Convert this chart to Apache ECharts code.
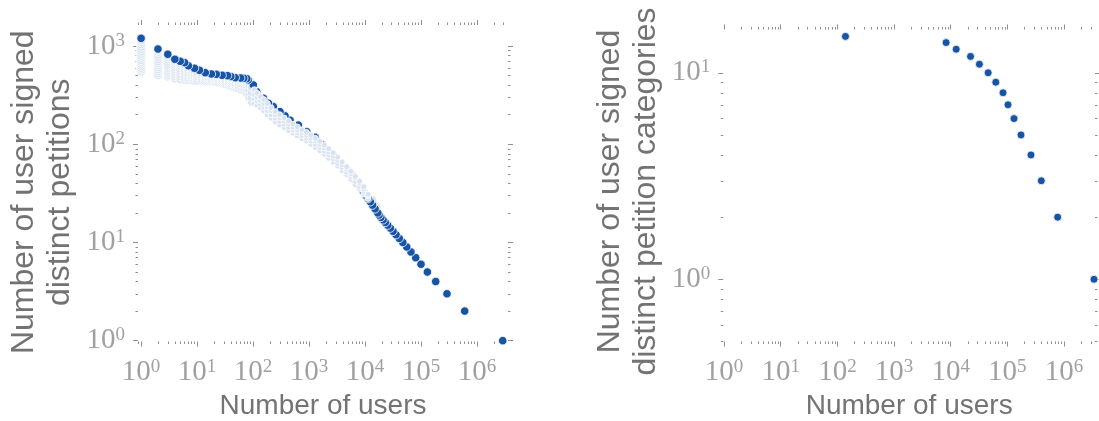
<!DOCTYPE html>
<html><head><meta charset="utf-8">
<script src="https://cdn.jsdelivr.net/npm/echarts@6/dist/echarts.min.js"></script>
<style>html,body{margin:0;padding:0;background:#fff}#c{width:1099px;height:421px}</style>
</head><body><div id="c"></div>
<script>
// ---------- data ----------
// left panel: number of users (x) who signed a given number of distinct petitions (y)
const leftPetitions = [1,2,3,4,5,6,7,8,9,10,11,12,13,14,15,16,17,18,19,20,22,24,26,28,30,33,37,42,48,55,64,75,87,100,118,134,157,176,195,215,242,262,294,343,402,452,466,470,473,477,490,500,504,516,520,536,567,594,631,678,700,734,826,934,1200];
const leftUsers = [2880000,603000,291000,183000,130000,100000,80400,66100,55600,47300,40900,35800,31600,28300,25400,23000,21000,19200,17800,16900,15100,13600,12400,11300,10400,9300,8150,6840,5690,4710,3600,2720,2100,1660,1280,910,644,458,372,303,230,188,153,116,101,82,77,68,60,48,40,35,28,22,18,14,11,9,7,6,5,4,3,2,1];
// overlapped (washed-out) points of the left panel, grouped by number of users
const cloudUsers = [1,2,3,4,5,6,7,8,9,10,12,14,16,18,21,24,28,32,37,42,48,55,62,70,78,86,95,105,118,135,155,180,210,250,300,360,430,520,620,750,900,1080,1300,1560,1870,2250,2700,3250,3900,4700,5600,6700,8000,9500,11300,13500,16000];
const cloudPetitions = [
  [550,575,600,630,660,690,720,760,800,840,880,930,980,1040,1100,1150],
  [508,530,555,580,610,640,670,700,740,780,820,870,910],
  [490,510,535,560,590,620,650,690,730,770,800],
  [470,495,520,550,580,610,645,680,710],
  [460,490,520,555,590,630,670],
  [455,480,510,545,580,620,650],
  [450,475,505,535,570,605],
  [450,470,500,530,560,590],
  [445,470,495,525,560],
  [445,470,495,520,550],
  [445,465,490,515,540],
  [440,460,485,510,530],
  [440,460,480,505,520],
  [440,455,475,500,515],
  [435,455,475,495,510],
  [430,450,470,490,505],
  [420,440,460,480,500],
  [410,430,450,470,495],
  [400,420,440,460,485],
  [390,410,430,455,475],
  [380,400,420,445,470],
  [370,395,420,445,465],
  [360,385,410,440,460],
  [350,375,400,430,455],
  [330,360,390,420,450],
  [300,330,360,400,440],
  [270,300,340,380,420],
  [260,290,320,360],
  [250,275,300,330],
  [235,255,280,305],
  [220,240,260,285],
  [200,220,240,260],
  [185,200,220,235],
  [170,185,200,215],
  [158,172,186,200],
  [148,160,172,185],
  [138,150,162,172],
  [130,140,150,160],
  [122,131,140,150],
  [114,123,132,140],
  [108,116,124,132],
  [100,108,116,124],
  [93,100,108,115],
  [86,93,100,107],
  [79,85,92,98],
  [72,78,84,90],
  [66,71,76,82],
  [60,64,69,74],
  [54,58,62,66],
  [49,52,56,59],
  [44,47,50,53],
  [39,42,45,47],
  [35,37,40,42],
  [31,33,35,37],
  [28,30,31],
  [24,26,27],
  [21,22,23]
];
// right panel: number of users (x) who signed a given number of distinct petition categories (y)
const rightCategories = [15,14,13,12,11,10,9,8,7,6,5,4,3,2,1];
const rightUsers = [139,8300,12500,22400,32100,45800,62500,83800,102600,131000,174000,261000,397000,772000,3380000];

// tick positions
const xMajorTicks = [1,10,100,1000,10000,100000,1000000];
const leftYMajorTicks = [1,10,100,1000];
const rightYMajorTicks = [1,10];

// ---------- chart ----------
const leftMain = leftUsers.map((u,i)=>[u,leftPetitions[i]]);
const cloudUnder = [], cloudOver = [];
cloudUsers.forEach((u,i)=>cloudPetitions[i].forEach(p=>((u>=100&&u<12000)?cloudOver:cloudUnder).push([u,p])));
const rightMain = rightUsers.map((u,i)=>[u,rightCategories[i]]);

function minorTicks(lo,hi){
  const out=[];
  for(let e=-2;e<=7;e++){for(let m=2;m<=9;m++){const v=+(m*Math.pow(10,e)).toPrecision(6);if(v>=lo&&v<=hi)out.push(v);}}
  return out;
}
const TICK='#8f8f8f', LAB='#a0a0a0', NAME='#737373';
const rich={
  b:{fontFamily:'Liberation Serif',fontSize:29,color:LAB,lineHeight:30},
  s:{fontFamily:'Liberation Serif',fontSize:19,color:LAB,lineHeight:8,verticalAlign:'top'}
};
function fmt(v){const e=Math.round(Math.log10(v));return '{b|10}{s|'+e+'}';}

const L={left:138,top:25,width:370,height:316.5, xmin:0.88,xmax:3.58e6, ymin:0.98,ymax:1640, yGap:60, yShift:18};
const R={left:723.3,top:29.5,width:371.7,height:312, xmin:0.97,xmax:3.52e6, ymin:0.5,ymax:16.2, yGap:59, yShift:12};

function ax(dim,grid,pos,min,max,ticks,len,labels,name,nameGap,shift){
  const a={type:'log',logBase:10,gridIndex:grid,position:pos,min:min,max:max,
    axisLine:{show:false},splitLine:{show:false},minorTick:{show:false},
    axisTick:{show:true,inside:false,length:len,lineStyle:{color:TICK,width:1},customValues:ticks},
    axisLabel:labels?{show:true,customValues:ticks,formatter:fmt,rich:rich,margin:dim==='x'?16:13}:{show:false}
  };
  if(name){
    a.name=name;a.nameLocation='middle';a.nameGap=nameGap;
    a.nameTextStyle=dim==='x'?{fontFamily:'Liberation Sans',fontSize:28,color:NAME}
      :{fontFamily:'Liberation Sans',fontSize:32,color:NAME,lineHeight:36,align:'center',padding:[0,shift,0,0]};
  }
  return a;
}

const grids=[], xAxes=[], yAxes=[];
[L,R].forEach((P,k)=>{
  const yMaj=k===0?leftYMajorTicks:rightYMajorTicks;
  const gMain=grids.length, gMin=gMain+1;
  grids.push({left:P.left,top:P.top,width:P.width,height:P.height,containLabel:false,outerBoundsMode:'none'});
  grids.push({left:P.left,top:P.top,width:P.width,height:P.height,containLabel:false,outerBoundsMode:'none'});
  xAxes.push(ax('x',gMain,'bottom',P.xmin,P.xmax,xMajorTicks,5,true,'Number of users',51));
  xAxes.push(ax('x',gMain,'top',P.xmin,P.xmax,xMajorTicks,5,false));
  xAxes.push(ax('x',gMin,'bottom',P.xmin,P.xmax,minorTicks(P.xmin,P.xmax),2.5,false));
  xAxes.push(ax('x',gMin,'top',P.xmin,P.xmax,minorTicks(P.xmin,P.xmax),2.5,false));
  yAxes.push(ax('y',gMain,'left',P.ymin,P.ymax,yMaj,5,true,
    k===0?'Number of user signed\ndistinct petitions':'Number of user signed\ndistinct petition categories',P.yGap,P.yShift));
  yAxes.push(ax('y',gMain,'right',P.ymin,P.ymax,yMaj,5,false));
  yAxes.push(ax('y',gMin,'left',P.ymin,P.ymax,minorTicks(P.ymin,P.ymax),2.5,false));
  yAxes.push(ax('y',gMin,'right',P.ymin,P.ymax,minorTicks(P.ymin,P.ymax),2.5,false));
});

const DOT='#1754a6';
const cloudStyle={color:'#d9e3ef',borderColor:'#ffffff',borderWidth:0.8,opacity:1};
const option={
  animation:false,
  backgroundColor:'#ffffff',
  grid:grids,xAxis:xAxes,yAxis:yAxes,
  series:[
    {type:'scatter',xAxisIndex:0,yAxisIndex:0,data:cloudUnder,symbolSize:9,silent:true,itemStyle:cloudStyle},
    {type:'scatter',xAxisIndex:0,yAxisIndex:0,data:leftMain,symbolSize:8.5,silent:true,
      itemStyle:{color:DOT,borderColor:'#ffffff',borderWidth:0.8,opacity:1}},
    {type:'scatter',xAxisIndex:0,yAxisIndex:0,data:cloudOver,symbolSize:6,silent:true,itemStyle:cloudStyle},
    {type:'scatter',xAxisIndex:4,yAxisIndex:4,data:rightMain,symbolSize:8,silent:true,clip:false,
      itemStyle:{color:DOT,borderColor:'#ffffff',borderWidth:0.8,opacity:1}}
  ]
};
const chart=echarts.init(document.getElementById('c'),null,{renderer:'canvas'});
chart.setOption(option);
</script></body></html>
